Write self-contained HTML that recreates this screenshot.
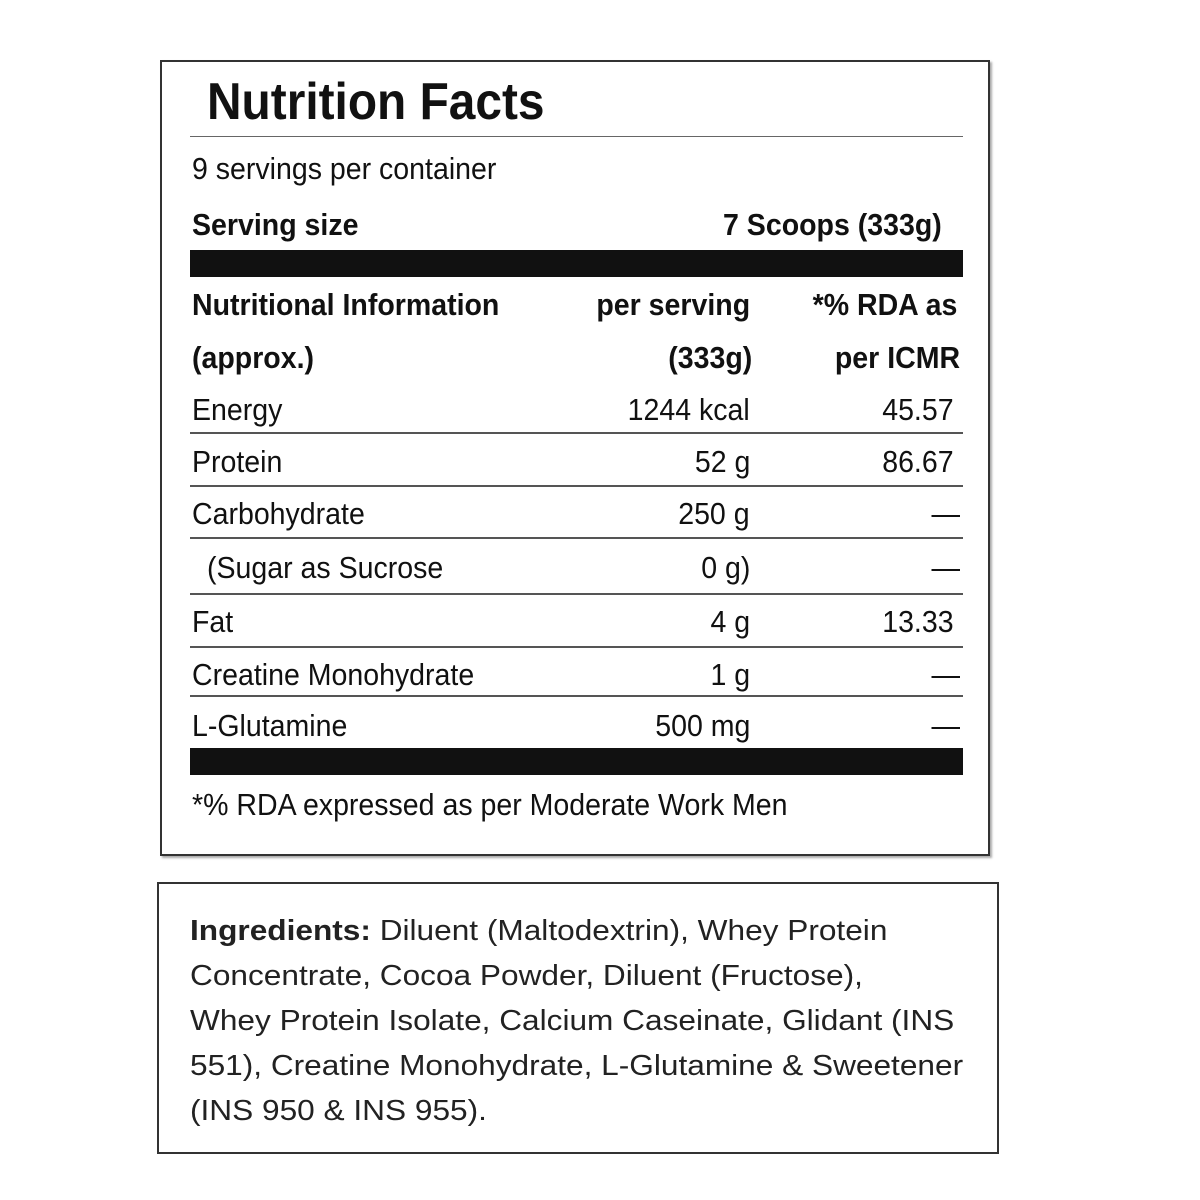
<!DOCTYPE html>
<html><head><meta charset="utf-8"><style>
body{margin:0;width:1200px;height:1200px;background:#fff;position:relative;overflow:hidden;font-family:"Liberation Sans",Arial,sans-serif;color:#111}
.a{position:absolute;white-space:nowrap;line-height:1}
.l{transform:scaleX(.92);transform-origin:left center}
.r{transform:scaleX(.92);transform-origin:right center;text-align:right}
.b{font-weight:bold}
.hl{position:absolute;left:190px;width:773px;height:2px;background:#555}
.bar{position:absolute;left:190px;width:773px;background:#111}
.f{font-size:31px}
</style></head><body>
<div style="position:absolute;left:160px;top:60px;width:826px;height:792px;border:2px solid #333;box-shadow:2px 2px 2px #aaa"></div>
<div class="a l b" style="left:207px;top:76px;font-size:52px">Nutrition Facts</div>
<div class="hl" style="top:136px;height:1px;background:#666"></div>
<div class="a l" style="left:192px;top:153px;font-size:31px">9 servings per container</div>
<div class="a l b" style="left:192px;top:209px;font-size:31px">Serving size</div>
<div class="a r b" style="right:258px;top:209px;font-size:31px">7 Scoops (333g)</div>
<div class="bar" style="top:250px;height:27px"></div>
<div class="a l b f" style="left:192px;top:289px">Nutritional Information</div>
<div class="a l b f" style="left:192px;top:342px">(approx.)</div>
<div class="a r b f" style="right:450px;top:289px">per serving</div>
<div class="a r b f" style="right:448px;top:342px">(333g)</div>
<div class="a r b f" style="right:243px;top:289px">*% RDA as</div>
<div class="a r b f" style="right:240px;top:342px">per ICMR</div>

<div class="a l f" style="left:192px;top:394px">Energy</div>
<div class="a r f" style="right:450px;top:394px">1244 kcal</div>
<div class="a r f" style="right:246px;top:394px">45.57</div>
<div class="hl" style="top:432px"></div>
<div class="a l f" style="left:192px;top:446px">Protein</div>
<div class="a r f" style="right:450px;top:446px">52 g</div>
<div class="a r f" style="right:246px;top:446px">86.67</div>
<div class="hl" style="top:485px"></div>
<div class="a l f" style="left:192px;top:498px">Carbohydrate</div>
<div class="a r f" style="right:450px;top:498px">250 g</div>
<div class="a r f" style="right:240px;top:498px">—</div>
<div class="hl" style="top:537px"></div>
<div class="a l f" style="left:207px;top:552px">(Sugar as Sucrose</div>
<div class="a r f" style="right:450px;top:552px">0 g)</div>
<div class="a r f" style="right:240px;top:552px">—</div>
<div class="hl" style="top:593px"></div>
<div class="a l f" style="left:192px;top:606px">Fat</div>
<div class="a r f" style="right:450px;top:606px">4 g</div>
<div class="a r f" style="right:246px;top:606px">13.33</div>
<div class="hl" style="top:646px"></div>
<div class="a l f" style="left:192px;top:659px">Creatine Monohydrate</div>
<div class="a r f" style="right:450px;top:659px">1 g</div>
<div class="a r f" style="right:240px;top:659px">—</div>
<div class="hl" style="top:695px"></div>
<div class="a l f" style="left:192px;top:710px">L-Glutamine</div>
<div class="a r f" style="right:450px;top:710px">500 mg</div>
<div class="a r f" style="right:240px;top:710px">—</div>
<div class="bar" style="top:748px;height:27px"></div>
<div class="a l f" style="left:192px;top:789px">*% RDA expressed as per Moderate Work Men</div>

<div style="position:absolute;left:157px;top:882px;width:838px;height:268px;border:2px solid #333"></div>
<div style="position:absolute;left:190px;top:909px;width:782px;height:230px;overflow:hidden">
<div style="font-size:29px;line-height:45px;white-space:nowrap;color:#222;transform:scaleX(1.09);transform-origin:left top">
<b>Ingredients:</b> Diluent (Maltodextrin), Whey Protein<br>Concentrate, Cocoa Powder, Diluent (Fructose),<br>Whey Protein Isolate, Calcium Caseinate, Glidant (INS<br>551), Creatine Monohydrate, L-Glutamine &amp; Sweetener<br>(INS 950 &amp; INS 955).
</div></div>
</body></html>
